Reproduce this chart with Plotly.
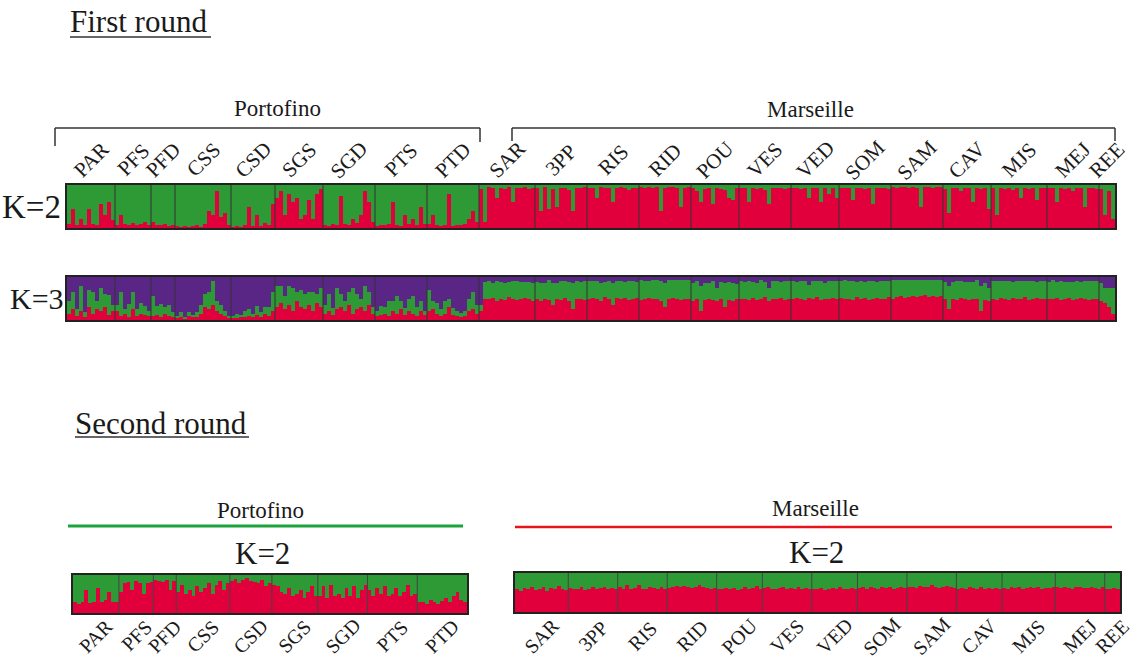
import plotly.graph_objects as go

# ---------------- data ----------------
pops_porto = ["PAR", "PFS", "PFD", "CSS", "CSD", "SGS", "SGD", "PTS", "PTD"]
sizes_porto = [12, 9, 6, 14, 11, 12, 13, 13, 13]
pops_mars = ["SAR", "3PP", "RIS", "RID", "POU", "VES", "VED", "SOM", "SAM", "CAV", "MJS", "MEJ", "REE"]
sizes_mars = [14, 13, 13, 13, 12, 13, 12, 13, 13, 12, 14, 13, 4]

# First round, K=2 : red-cluster membership (%) per individual
k2_red_porto = (
    [10, 45, 8, 20, 6, 45, 10, 8, 55, 30, 60, 18] +
    [8, 30, 10, 6, 12, 8, 10, 15, 6] +
    [15, 8, 6, 10, 5, 8] +
    [4, 3, 5, 3, 4, 6, 3, 10, 40, 30, 85, 25, 35, 8] +
    [3, 4, 3, 6, 50, 5, 30, 4, 12, 8, 55] +
    [70, 85, 30, 80, 60, 70, 20, 30, 65, 20, 80, 90] +
    [8, 5, 10, 6, 75, 10, 8, 20, 12, 30, 85, 60, 15] +
    [5, 8, 6, 10, 60, 8, 5, 30, 10, 20, 8, 50, 10] +
    [10, 30, 6, 5, 8, 80, 5, 8, 6, 10, 20, 40, 15]
)
k2_red_mars = (
    [90, 15, 95, 92, 70, 94, 90, 95, 60, 92, 94, 95, 90, 92] +
    [92, 40, 95, 45, 90, 50, 93, 92, 88, 40, 94, 92, 95] +
    [94, 92, 70, 95, 93, 92, 60, 94, 95, 92, 88, 94, 93] +
    [95, 94, 96, 93, 95, 40, 94, 96, 95, 92, 50, 94, 95] +
    [92, 85, 60, 90, 94, 55, 92, 90, 88, 70, 65, 93] +
    [93, 92, 60, 94, 90, 92, 88, 55, 93, 92, 94, 90, 93] +
    [94, 92, 90, 93, 70, 92, 94, 60, 93, 80, 92, 70] +
    [93, 94, 92, 65, 94, 93, 90, 94, 55, 93, 92, 94, 90] +
    [95, 94, 96, 95, 93, 95, 94, 50, 96, 95, 94, 96, 95] +
    [90, 35, 93, 92, 85, 94, 92, 60, 93, 90, 92, 45] +
    [92, 30, 93, 90, 94, 88, 92, 70, 93, 91, 94, 65, 92, 93] +
    [93, 92, 60, 94, 90, 93, 85, 92, 94, 50, 93, 92, 90] +
    [90, 30, 85, 20]
)

# First round, K=3 : red and green membership (%), purple = rest
k3_red_porto = (
    [15, 25, 10, 20, 8, 30, 15, 25, 20, 30, 12, 20] +
    [20, 10, 15, 8, 25, 10, 15, 12, 10] +
    [10, 12, 8, 15, 10, 8] +
    [5, 8, 4, 10, 6, 8, 15, 30, 25, 35, 20, 15, 10, 5] +
    [5, 4, 6, 8, 10, 6, 12, 8, 15, 10, 20] +
    [30, 40, 25, 35, 20, 45, 30, 25, 35, 20, 40, 30] +
    [15, 20, 12, 25, 30, 20, 35, 15, 25, 30, 20, 35, 15] +
    [10, 12, 15, 10, 20, 15, 25, 12, 20, 15, 10, 20, 12] +
    [20, 25, 15, 10, 15, 30, 12, 10, 8, 10, 20, 25, 15]
)
k3_green_porto = (
    [30, 40, 15, 60, 10, 40, 50, 20, 55, 30, 45, 15] +
    [15, 55, 10, 30, 40, 15, 25, 20, 10] +
    [45, 20, 30, 15, 25, 10] +
    [5, 10, 4, 8, 6, 10, 20, 30, 40, 55, 25, 20, 10, 5] +
    [5, 10, 6, 12, 15, 8, 20, 10, 15, 20, 45] +
    [50, 40, 30, 45, 55, 20, 40, 35, 30, 45, 20, 45] +
    [20, 40, 15, 50, 30, 25, 30, 60, 35, 20, 60, 30, 15] +
    [10, 20, 15, 35, 25, 40, 20, 15, 30, 40, 20, 25, 10] +
    [50, 20, 25, 15, 30, 20, 15, 10, 8, 10, 30, 40, 20]
)
k3_red_mars = (
    [20, 50, 48, 52, 45, 50, 47, 53, 49, 46, 50, 52, 48, 45] +
    [48, 45, 50, 47, 35, 49, 46, 52, 44, 25, 48, 50, 47] +
    [50, 52, 48, 45, 53, 50, 35, 52, 49, 51, 47, 50, 52] +
    [47, 50, 52, 48, 50, 45, 30, 49, 52, 48, 47, 50, 49] +
    [45, 48, 20, 47, 50, 46, 44, 49, 30, 47, 45, 48] +
    [48, 50, 46, 52, 47, 49, 53, 45, 50, 48, 51, 47, 50] +
    [50, 52, 48, 47, 51, 49, 53, 46, 50, 48, 52, 49] +
    [52, 48, 50, 47, 53, 49, 51, 46, 50, 52, 48, 50, 53] +
    [50, 53, 55, 52, 54, 56, 53, 55, 57, 54, 56, 53, 55] +
    [48, 25, 50, 47, 52, 49, 46, 50, 48, 20, 47, 45] +
    [50, 47, 52, 49, 46, 51, 48, 50, 53, 47, 49, 51, 48, 50] +
    [48, 50, 52, 46, 49, 51, 47, 50, 52, 48, 46, 50, 49] +
    [45, 40, 30, 15]
)
k3_green_mars = (
    [15, 38, 42, 35, 45, 38, 40, 35, 42, 44, 38, 36, 40, 42] +
    [40, 42, 35, 45, 50, 38, 44, 38, 45, 60, 42, 38, 44] +
    [40, 38, 42, 40, 36, 40, 50, 38, 42, 38, 44, 40, 36] +
    [45, 40, 38, 44, 42, 45, 55, 43, 40, 44, 45, 42, 43] +
    [40, 42, 60, 38, 35, 44, 30, 40, 55, 42, 40, 35] +
    [42, 38, 44, 36, 40, 43, 35, 30, 40, 42, 38, 44, 40] +
    [40, 36, 42, 44, 30, 41, 37, 44, 35, 43, 38, 42] +
    [38, 44, 40, 43, 36, 42, 38, 44, 40, 36, 43, 40, 37] +
    [42, 40, 38, 41, 39, 37, 40, 38, 36, 39, 37, 40, 38] +
    [40, 55, 38, 44, 38, 40, 42, 38, 44, 60, 40, 30] +
    [40, 43, 38, 41, 44, 38, 42, 40, 37, 43, 41, 38, 42, 40] +
    [40, 42, 36, 44, 40, 38, 42, 40, 37, 43, 44, 40, 41] +
    [40, 35, 45, 60]
)

# Second round, K=2 : red membership (%)
r2_red_porto = (
    [30, 25, 28, 60, 27, 30, 65, 28, 35, 55, 30, 28] +
    [55, 80, 82, 60, 85, 80, 50, 78, 82] +
    [88, 85, 82, 86, 60, 84] +
    [55, 75, 50, 60, 45, 70, 55, 65, 80, 50, 75, 85, 60, 80] +
    [85, 90, 80, 88, 92, 85, 82, 78, 86, 70, 80] +
    [75, 70, 55, 50, 65, 45, 50, 60, 40, 55, 70, 45] +
    [45, 70, 40, 75, 45, 50, 40, 65, 45, 70, 40, 60, 75] +
    [60, 45, 65, 50, 70, 45, 50, 65, 45, 55, 75, 45, 50] +
    [30, 28, 25, 35, 30, 25, 32, 40, 30, 45, 55, 35, 30]
)
r2_red_mars = (
    [60, 55, 62, 58, 65, 57, 60, 63, 55, 61, 58, 66, 60, 57] +
    [62, 58, 60, 64, 57, 60, 63, 59, 61, 65, 58, 62, 60] +
    [63, 60, 68, 58, 62, 70, 60, 58, 64, 61, 59, 63, 60] +
    [62, 64, 66, 63, 67, 65, 62, 64, 68, 63, 61, 60, 62] +
    [60, 58, 62, 59, 61, 57, 60, 63, 58, 62, 66, 60] +
    [62, 65, 60, 58, 61, 63, 59, 62, 60, 64, 58, 61, 60] +
    [58, 60, 62, 57, 60, 61, 59, 63, 58, 60, 62, 59] +
    [61, 63, 60, 64, 62, 60, 65, 61, 63, 60, 62, 64, 61] +
    [63, 65, 62, 66, 64, 63, 68, 65, 62, 64, 66, 63, 62] +
    [60, 62, 58, 64, 61, 59, 63, 60, 62, 58, 61, 60] +
    [62, 60, 64, 61, 63, 60, 62, 65, 61, 63, 60, 62, 61, 63] +
    [63, 61, 64, 62, 60, 65, 63, 62, 61, 64, 62, 60, 63] +
    [60, 58, 62, 60]
)

# ---------------- styling ----------------
W, H = 1138, 661
RED, GREEN, PURPLE = "#e2003c", "#2e9a36", "#5a2686"
FONT = "Liberation Serif, Times New Roman, serif"
TXT = "#1a1a1a"


def px(x):
    return x / W


def py(y):
    return 1 - y / H


fig = go.Figure()


def add_stack(xa, ya, layers):
    n = len(layers[0][0])
    idx = list(range(n))
    for vals, col in layers:
        fig.add_trace(go.Bar(
            x=idx, y=vals, xaxis=xa, yaxis=ya, width=1.0,
            marker=dict(color=col, line=dict(width=0)),
            hoverinfo="skip", showlegend=False))


# first round (both regions on one bar)
top_k2_red = k2_red_porto + k2_red_mars
top_k2_green = [100 - r for r in top_k2_red]
top_k3_red = k3_red_porto + k3_red_mars
top_k3_green = k3_green_porto + k3_green_mars
top_k3_purple = [100 - r - g for r, g in zip(top_k3_red, top_k3_green)]

add_stack("x", "y", [(top_k2_red, RED), (top_k2_green, GREEN)])
add_stack("x2", "y2", [(top_k3_red, RED), (top_k3_green, GREEN), (top_k3_purple, PURPLE)])

# second round
add_stack("x3", "y3", [(r2_red_porto, RED), ([100 - r for r in r2_red_porto], GREEN)])
add_stack("x4", "y4", [(r2_red_mars, RED), ([100 - r for r in r2_red_mars], GREEN)])

n_top = len(top_k2_red)
axis_common = dict(showline=True, mirror=True, linecolor="#222", linewidth=2,
                   ticks="", showticklabels=False, showgrid=False, zeroline=False,
                   fixedrange=True)

fig.update_layout(
    width=W, height=H, margin=dict(l=0, r=0, t=0, b=0),
    paper_bgcolor="white", plot_bgcolor="white",
    barmode="stack", bargap=0, showlegend=False,
    xaxis=dict(domain=[px(67), px(1115)], anchor="y", range=[-0.5, n_top - 0.5], **axis_common),
    yaxis=dict(domain=[py(228), py(185)], anchor="x", range=[0, 100], **axis_common),
    xaxis2=dict(domain=[px(67), px(1115)], anchor="y2", range=[-0.5, n_top - 0.5], **axis_common),
    yaxis2=dict(domain=[py(320), py(277)], anchor="x2", range=[0, 100], **axis_common),
    xaxis3=dict(domain=[px(73), px(467)], anchor="y3", range=[-0.5, len(r2_red_porto) - 0.5], **axis_common),
    yaxis3=dict(domain=[py(613), py(575)], anchor="x3", range=[0, 100], **axis_common),
    xaxis4=dict(domain=[px(515), px(1120)], anchor="y4", range=[-0.5, len(r2_red_mars) - 0.5], **axis_common),
    yaxis4=dict(domain=[py(612), py(573)], anchor="x4", range=[0, 100], **axis_common),
)

shapes = []
annotations = []


def boundaries(sizes):
    out, c = [], 0
    for s in sizes[:-1]:
        c += s
        out.append(c - 0.5)
    return out


def centers(sizes, offset=0):
    out, c = [], offset
    for s in sizes:
        out.append(c + s / 2 - 0.5)
        c += s
    return out


top_sizes = sizes_porto + sizes_mars
for xr, yr in [("x", "y domain"), ("x2", "y2 domain")]:
    for b in boundaries(top_sizes):
        shapes.append(dict(type="line", xref=xr, yref=yr, x0=b, x1=b, y0=0, y1=1,
                           line=dict(color="#333", width=1)))
for b in boundaries(sizes_porto):
    shapes.append(dict(type="line", xref="x3", yref="y3 domain", x0=b, x1=b, y0=0, y1=1,
                       line=dict(color="#444", width=1)))
for b in boundaries(sizes_mars):
    shapes.append(dict(type="line", xref="x4", yref="y4 domain", x0=b, x1=b, y0=0, y1=1,
                       line=dict(color="#444", width=1)))

# brackets (first round)
br = dict(color="#333", width=1.5)
shapes += [
    dict(type="line", xref="paper", yref="paper", x0=px(55), x1=px(480), y0=py(128), y1=py(128), line=br),
    dict(type="line", xref="paper", yref="paper", x0=px(55), x1=px(55), y0=py(128), y1=py(146), line=br),
    dict(type="line", xref="paper", yref="paper", x0=px(480), x1=px(480), y0=py(128), y1=py(142), line=br),
    dict(type="line", xref="paper", yref="paper", x0=px(512), x1=px(1115), y0=py(128), y1=py(128), line=br),
    dict(type="line", xref="paper", yref="paper", x0=px(512), x1=px(512), y0=py(128), y1=py(141), line=br),
    dict(type="line", xref="paper", yref="paper", x0=px(1115), x1=px(1115), y0=py(128), y1=py(141), line=br),
]
# second round coloured lines
shapes += [
    dict(type="line", xref="paper", yref="paper", x0=px(68), x1=px(463), y0=py(526), y1=py(526),
         line=dict(color="#1ca33c", width=3)),
    dict(type="line", xref="paper", yref="paper", x0=px(515), x1=px(1112), y0=py(527), y1=py(527),
         line=dict(color="#e8141c", width=2.5)),
]
# underlines of headings
shapes += [
    dict(type="line", xref="paper", yref="paper", x0=px(70), x1=px(211), y0=py(37), y1=py(37),
         line=dict(color="#333", width=1.5)),
    dict(type="line", xref="paper", yref="paper", x0=px(75), x1=px(249), y0=py(437), y1=py(437),
         line=dict(color="#333", width=1.5)),
]


def txt(x, y, s, size, xref="paper", angle=0, xanchor="center"):
    annotations.append(dict(x=x, y=y, xref=xref, yref="paper", text=s, showarrow=False,
                            textangle=angle, xanchor=xanchor, yanchor="middle",
                            font=dict(family=FONT, size=size, color=TXT)))


txt(px(68), py(22), "First round", 31, xanchor="left")
txt(px(73), py(423), "Second round", 31, xanchor="left")
txt(px(277), py(108), "Portofino", 23)
txt(px(810), py(110), "Marseille", 23)
txt(px(32), py(207), "K=2", 33)
txt(px(37), py(298), "K=3", 30)
txt(px(260), py(510), "Portofino", 23)
txt(px(815), py(508), "Marseille", 23)
txt(px(262), py(553), "K=2", 31)
txt(px(816), py(552), "K=2", 31)

# population labels, first round (above bar)
for name, cx in zip(pops_porto + pops_mars, centers(top_sizes)):
    txt(cx, py(160), name, 21, xref="x", angle=-45)
# population labels, second round (below bars)
for name, cx in zip(pops_porto, centers(sizes_porto)):
    txt(cx, py(636), name, 20, xref="x3", angle=-45)
for name, cx in zip(pops_mars, centers(sizes_mars)):
    txt(cx, py(636), name, 20, xref="x4", angle=-45)

fig.update_layout(shapes=shapes, annotations=annotations)
fig.write_html("out.html", config={"displayModeBar": False},
               post_script="document.body.style.margin='0px'; document.body.style.overflow='hidden';")
